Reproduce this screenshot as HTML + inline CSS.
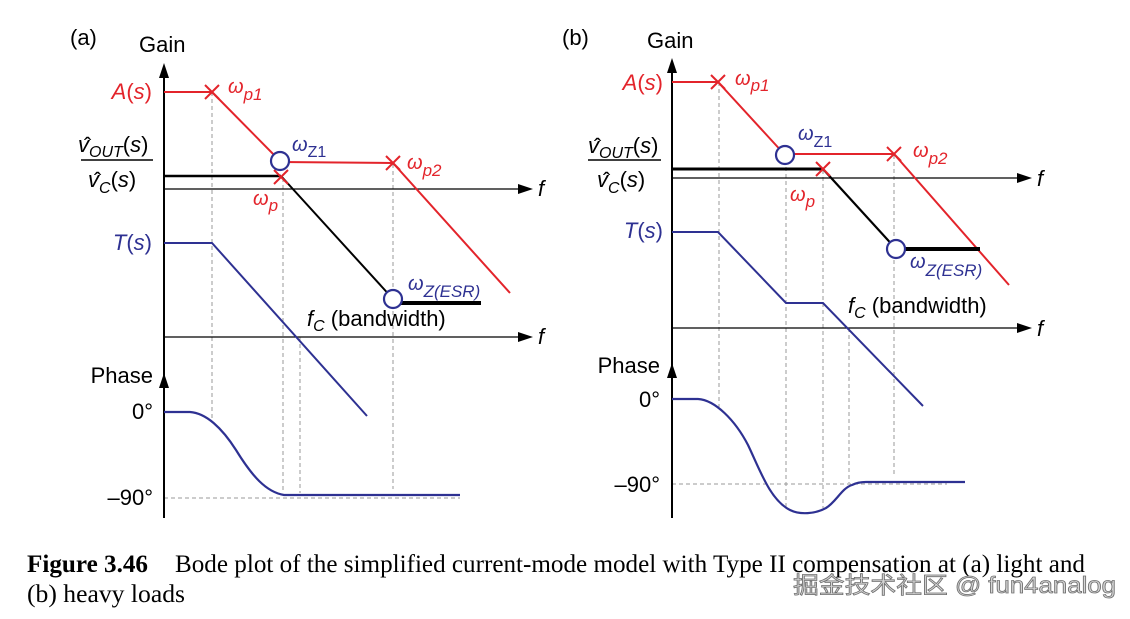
<!DOCTYPE html>
<html><head><meta charset="utf-8"><style>
html,body{margin:0;padding:0;background:#fff;}
svg{display:block;}
text{font-family:"Liberation Sans",sans-serif;}
</style></head><body>
<svg width="1130" height="619" viewBox="0 0 1130 619" xmlns="http://www.w3.org/2000/svg">
<rect width="1130" height="619" fill="#fff"/>

<!-- ================= PANEL (a) ================= -->
<g stroke="#9a9a9a" stroke-width="1" stroke-dasharray="4,3" fill="none">
  <line x1="212" y1="92" x2="212" y2="420"/>
  <line x1="283" y1="178" x2="283" y2="493"/>
  <line x1="300" y1="337" x2="300" y2="493"/>
  <line x1="393" y1="164" x2="393" y2="489"/>
  <line x1="164" y1="498" x2="460" y2="498"/>
</g>
<!-- axes -->
<line x1="164" y1="70" x2="164" y2="518" stroke="#000" stroke-width="2"/>
<path d="M164,63 L159,78 L169,78 Z" fill="#000"/>
<path d="M164,373 L159,388 L169,388 Z" fill="#000"/>
<line x1="164" y1="189" x2="522" y2="189" stroke="#000" stroke-width="1.3"/>
<path d="M533,189 L518,184 L518,194 Z" fill="#000"/>
<line x1="164" y1="337" x2="522" y2="337" stroke="#000" stroke-width="1.3"/>
<path d="M533,337 L518,332 L518,342 Z" fill="#000"/>
<text x="538" y="196" font-size="22" font-style="italic">f</text>
<text x="538" y="344" font-size="22" font-style="italic">f</text>

<!-- red A(s) -->
<polyline points="164,92 212,92 280,161" fill="none" stroke="#e3242b" stroke-width="2"/>
<polyline points="280,162 393,163 510,293" fill="none" stroke="#e3242b" stroke-width="2"/>
<!-- black -->
<polyline points="164,176 281,176" fill="none" stroke="#000" stroke-width="2.4"/>
<polyline points="281,176 393,299" fill="none" stroke="#000" stroke-width="2"/>
<line x1="393" y1="303" x2="481" y2="303" stroke="#000" stroke-width="4"/>
<!-- crosses -->
<g stroke="#e3242b" stroke-width="2">
  <path d="M205,85 L219,99 M219,85 L205,99"/>
  <path d="M386,156 L400,170 M400,156 L386,170"/>
  <path d="M274,170 L288,184 M288,170 L274,184"/>
</g>
<!-- circles -->
<circle cx="280" cy="161" r="9" fill="#fff" stroke="#2e3192" stroke-width="2.2"/>
<circle cx="393" cy="299" r="9" fill="#fff" stroke="#2e3192" stroke-width="2.2"/>
<!-- T(s) -->
<polyline points="164,243 212,243 367,416" fill="none" stroke="#2e3192" stroke-width="2"/>
<!-- phase -->
<path d="M164,412 L190,412 C206,413 222,428 236,450 C252,476 266,492 284,495 L460,495" fill="none" stroke="#2e3192" stroke-width="2.2"/>

<!-- labels (a) -->
<text x="70" y="45" font-size="22">(a)</text>
<text x="139" y="52" font-size="22">Gain</text>
<text x="152" y="99" font-size="22" fill="#e3242b" text-anchor="end"><tspan font-style="italic">A</tspan>(<tspan font-style="italic">s</tspan>)</text>
<text x="84" y="153" font-size="22">ˆ</text>
<text x="78" y="152" font-size="22"><tspan font-style="italic">v</tspan><tspan font-size="16" font-style="italic" dy="5">OUT</tspan><tspan dy="-5">(</tspan><tspan font-style="italic">s</tspan>)</text>
<line x1="81" y1="160" x2="153" y2="160" stroke="#000" stroke-width="1.5"/>
<text x="94" y="188" font-size="22">ˆ</text>
<text x="88" y="187" font-size="22"><tspan font-style="italic">v</tspan><tspan font-size="16" font-style="italic" dy="6">C</tspan><tspan dy="-6">(</tspan><tspan font-style="italic">s</tspan>)</text>
<text x="152" y="250" font-size="22" fill="#2e3192" text-anchor="end"><tspan font-style="italic">T</tspan>(<tspan font-style="italic">s</tspan>)</text>
<text x="153" y="383" font-size="22" text-anchor="end">Phase</text>
<text x="153" y="419" font-size="22" text-anchor="end">0°</text>
<text x="153" y="505" font-size="22" text-anchor="end">–90°</text>

<text x="228" y="93" font-size="20" font-style="italic" fill="#e3242b">ω<tspan font-size="17" dy="7">p1</tspan></text>
<text x="292" y="151" font-size="20" font-style="italic" fill="#2e3192">ω<tspan font-size="16" font-style="normal" dy="6">Z1</tspan></text>
<text x="407" y="169" font-size="20" font-style="italic" fill="#e3242b">ω<tspan font-size="17" dy="7">p2</tspan></text>
<text x="253" y="205" font-size="20" font-style="italic" fill="#e3242b">ω<tspan font-size="17" dy="6">p</tspan></text>
<text x="408" y="290" font-size="20" font-style="italic" fill="#2e3192">ω<tspan font-size="17" dy="7">Z(ESR)</tspan></text>
<text x="307" y="326" font-size="22"><tspan font-style="italic">f</tspan><tspan font-size="16" font-style="italic" dy="5">C</tspan><tspan dy="-5"> (bandwidth)</tspan></text>

<!-- ================= PANEL (b) ================= -->
<g stroke="#9a9a9a" stroke-width="1" stroke-dasharray="4,3" fill="none">
  <line x1="719" y1="82" x2="719" y2="407"/>
  <line x1="786" y1="160" x2="786" y2="508"/>
  <line x1="823" y1="170" x2="823" y2="508"/>
  <line x1="849" y1="328" x2="849" y2="483"/>
  <line x1="894" y1="155" x2="894" y2="477"/>
  <line x1="672" y1="484" x2="947" y2="484"/>
</g>
<line x1="672" y1="65" x2="672" y2="518" stroke="#000" stroke-width="2"/>
<path d="M672,58 L667,73 L677,73 Z" fill="#000"/>
<path d="M672,363 L667,378 L677,378 Z" fill="#000"/>
<line x1="672" y1="178" x2="1021" y2="178" stroke="#000" stroke-width="1.3"/>
<path d="M1032,178 L1017,173 L1017,183 Z" fill="#000"/>
<line x1="672" y1="328" x2="1021" y2="328" stroke="#000" stroke-width="1.3"/>
<path d="M1032,328 L1017,323 L1017,333 Z" fill="#000"/>
<text x="1037" y="186" font-size="22" font-style="italic">f</text>
<text x="1037" y="336" font-size="22" font-style="italic">f</text>

<polyline points="672,82 718,82 785,155" fill="none" stroke="#e3242b" stroke-width="2"/>
<polyline points="785,154 894,154 1009,285" fill="none" stroke="#e3242b" stroke-width="2"/>
<polyline points="672,169 823,169" fill="none" stroke="#000" stroke-width="3"/>
<polyline points="823,169 896,249" fill="none" stroke="#000" stroke-width="2.2"/>
<line x1="896" y1="249" x2="980" y2="249" stroke="#000" stroke-width="4"/>
<g stroke="#e3242b" stroke-width="2">
  <path d="M711,75 L725,89 M725,75 L711,89"/>
  <path d="M887,147 L901,161 M901,147 L887,161"/>
  <path d="M816,162 L830,176 M830,162 L816,176"/>
</g>
<circle cx="785" cy="155" r="9" fill="#fff" stroke="#2e3192" stroke-width="2.2"/>
<circle cx="896" cy="249" r="9" fill="#fff" stroke="#2e3192" stroke-width="2.2"/>
<polyline points="672,232 718,232 786,303 823,303 923,406" fill="none" stroke="#2e3192" stroke-width="2"/>
<path d="M672,399 L698,399 C715,400 735,420 748,445 C760,470 770,500 790,510 C800,515 815,514 826,508 C836,502 842,488 852,485 C856,483 860,482 866,482 L965,482" fill="none" stroke="#2e3192" stroke-width="2.2"/>

<text x="562" y="45" font-size="22">(b)</text>
<text x="647" y="48" font-size="22">Gain</text>
<text x="663" y="90" font-size="22" fill="#e3242b" text-anchor="end"><tspan font-style="italic">A</tspan>(<tspan font-style="italic">s</tspan>)</text>
<text x="594" y="154" font-size="22">ˆ</text>
<text x="588" y="153" font-size="22"><tspan font-style="italic">v</tspan><tspan font-size="16" font-style="italic" dy="5">OUT</tspan><tspan dy="-5">(</tspan><tspan font-style="italic">s</tspan>)</text>
<line x1="588" y1="160" x2="661" y2="160" stroke="#000" stroke-width="1.5"/>
<text x="603" y="188" font-size="22">ˆ</text>
<text x="597" y="187" font-size="22"><tspan font-style="italic">v</tspan><tspan font-size="16" font-style="italic" dy="6">C</tspan><tspan dy="-6">(</tspan><tspan font-style="italic">s</tspan>)</text>
<text x="663" y="238" font-size="22" fill="#2e3192" text-anchor="end"><tspan font-style="italic">T</tspan>(<tspan font-style="italic">s</tspan>)</text>
<text x="660" y="373" font-size="22" text-anchor="end">Phase</text>
<text x="660" y="407" font-size="22" text-anchor="end">0°</text>
<text x="660" y="492" font-size="22" text-anchor="end">–90°</text>

<text x="735" y="85" font-size="20" font-style="italic" fill="#e3242b">ω<tspan font-size="17" dy="6">p1</tspan></text>
<text x="798" y="140" font-size="20" font-style="italic" fill="#2e3192">ω<tspan font-size="16" font-style="normal" dy="7">Z1</tspan></text>
<text x="913" y="157" font-size="20" font-style="italic" fill="#e3242b">ω<tspan font-size="17" dy="7">p2</tspan></text>
<text x="790" y="201" font-size="20" font-style="italic" fill="#e3242b">ω<tspan font-size="17" dy="6">p</tspan></text>
<text x="910" y="268" font-size="20" font-style="italic" fill="#2e3192">ω<tspan font-size="17" dy="8">Z(ESR)</tspan></text>
<text x="848" y="313" font-size="22"><tspan font-style="italic">f</tspan><tspan font-size="16" font-style="italic" dy="5">C</tspan><tspan dy="-5"> (bandwidth)</tspan></text>

<!-- ================= CAPTION ================= -->
<text x="27" y="572" font-size="25" font-weight="bold" textLength="121" lengthAdjust="spacingAndGlyphs" style="font-family:'Liberation Serif',serif">Figure 3.46</text>
<text x="175" y="572" font-size="25" textLength="910" lengthAdjust="spacingAndGlyphs" style="font-family:'Liberation Serif',serif">Bode plot of the simplified current-mode model with Type II compensation at (a) light and</text>
<text x="27" y="602" font-size="25" textLength="158" lengthAdjust="spacingAndGlyphs" style="font-family:'Liberation Serif',serif">(b) heavy loads</text>

<!-- watermark -->
<text x="793" y="593" font-size="23" fill="#d6d6d6" stroke="#707070" stroke-width="0.8" textLength="323" lengthAdjust="spacingAndGlyphs" style="font-family:'Liberation Sans','Noto Sans CJK SC',sans-serif">掘金技术社区 @ fun4analog</text>
</svg>
</body></html>
